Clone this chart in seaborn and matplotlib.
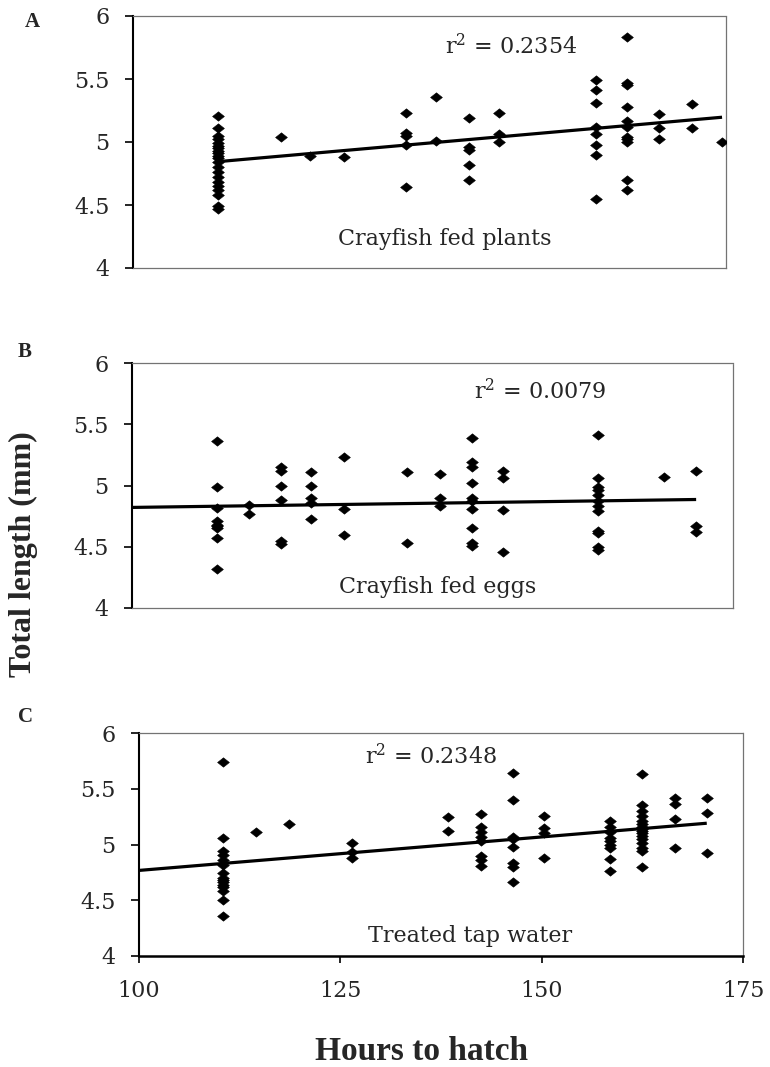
import numpy as np
import pandas as pd
import matplotlib
matplotlib.use("Agg")
import matplotlib.pyplot as plt
import seaborn as sns

# Panel A: crayfish fed plants
plants_hours = [
    110.7, 110.7, 110.7, 110.7, 110.7, 110.7, 110.7, 110.7, 110.7, 110.7, 110.7,
    110.7, 110.7, 110.7, 110.7, 110.7, 110.7, 110.7, 110.7, 110.7, 110.7,
    118.7, 122.4, 126.7,
    134.5, 134.5, 134.5, 134.5, 134.5,
    138.3, 138.3,
    142.5, 142.5, 142.5, 142.5, 142.5,
    146.3, 146.3, 146.3,
    158.5, 158.5, 158.5, 158.5, 158.5, 158.5, 158.5, 158.5,
    162.5, 162.5, 162.5, 162.5, 162.5, 162.5, 162.5, 162.5, 162.5, 162.5, 162.5,
    166.5, 166.5, 166.5,
    170.7, 170.7,
    174.5,
]
plants_length = [
    5.21, 5.11, 5.05, 5.02, 4.99, 4.97, 4.95, 4.93, 4.91, 4.89, 4.87,
    4.84, 4.80, 4.76, 4.72, 4.68, 4.65, 4.62, 4.58, 4.49, 4.47,
    5.04, 4.89, 4.88,
    5.23, 5.07, 5.05, 4.98, 4.64,
    5.36, 5.01,
    5.19, 4.96, 4.94, 4.82, 4.70,
    5.23, 5.06, 5.00,
    5.49, 5.41, 5.31, 5.12, 5.06, 4.98, 4.90, 4.55,
    5.83, 5.47, 5.45, 5.28, 5.17, 5.12, 5.04, 5.02, 5.00, 4.70, 4.62,
    5.22, 5.11, 5.02,
    5.30, 5.11,
    5.00,
]

# Panel B: crayfish fed eggs
eggs_hours = [
    110.6, 110.6, 110.6, 110.6, 110.6, 110.6, 110.6, 110.6, 110.6,
    114.6, 114.6,
    118.6, 118.6, 118.6, 118.6, 118.6, 118.6,
    122.4, 122.4, 122.4, 122.4, 122.4,
    126.4, 126.4, 126.4,
    134.3, 134.3,
    138.4, 138.4, 138.4,
    142.4, 142.4, 142.4, 142.4, 142.4, 142.4, 142.4, 142.4, 142.4, 142.4,
    146.3, 146.3, 146.3, 146.3,
    158.1, 158.1, 158.1, 158.1, 158.1, 158.1, 158.1, 158.1, 158.1, 158.1, 158.1, 158.1,
    166.4,
    170.4, 170.4, 170.4,
]
eggs_length = [
    5.36, 4.99, 4.82, 4.71, 4.68, 4.67, 4.65, 4.57, 4.32,
    4.84, 4.77,
    5.15, 5.12, 5.00, 4.88, 4.55, 4.52,
    5.11, 5.00, 4.90, 4.86, 4.73,
    5.23, 4.81, 4.60,
    5.11, 4.53,
    5.09, 4.90, 4.83,
    5.39, 5.19, 5.15, 5.02, 4.90, 4.87, 4.81, 4.65, 4.53, 4.51,
    5.12, 5.06, 4.80, 4.46,
    5.41, 5.06, 4.99, 4.96, 4.92, 4.87, 4.83, 4.79, 4.63, 4.61, 4.50, 4.47,
    5.07,
    5.12, 4.67, 4.62,
]

# Panel C: treated tap water
water_hours = [
    110.45, 110.45, 110.45, 110.45, 110.45, 110.45, 110.45, 110.45, 110.45,
    110.45, 110.45, 110.45, 110.45, 110.45, 110.45,
    114.5, 118.6,
    126.5, 126.5, 126.5,
    138.4, 138.4,
    142.5, 142.5, 142.5, 142.5, 142.5, 142.5, 142.5, 142.5,
    146.5, 146.5, 146.5, 146.5, 146.5, 146.5, 146.5, 146.5,
    150.3, 150.3, 150.3, 150.3,
    158.5, 158.5, 158.5, 158.5, 158.5, 158.5, 158.5, 158.5, 158.5,
    162.5, 162.5, 162.5, 162.5, 162.5, 162.5, 162.5, 162.5, 162.5, 162.5,
    162.5, 162.5, 162.5, 162.5, 162.5, 162.5,
    166.5, 166.5, 166.5, 166.5,
    170.5, 170.5, 170.5,
]
water_length = [
    5.74, 5.06, 4.94, 4.91, 4.86, 4.82, 4.74, 4.70, 4.68,
    4.66, 4.64, 4.62, 4.58, 4.50, 4.36,
    5.11, 5.18,
    5.01, 4.93, 4.88,
    5.25, 5.12,
    5.27, 5.16, 5.11, 5.07, 5.03, 4.90, 4.86, 4.81,
    5.64, 5.40, 5.07, 5.05, 4.98, 4.83, 4.80, 4.66,
    5.26, 5.15, 5.10, 4.88,
    5.21, 5.16, 5.11, 5.06, 5.03, 5.00, 4.97, 4.87, 4.76,
    5.63, 5.35, 5.30, 5.26, 5.21, 5.18, 5.16, 5.14, 5.12, 5.10,
    5.08, 5.05, 5.01, 4.97, 4.94, 4.80,
    5.42, 5.36, 5.23, 4.97,
    5.42, 5.28, 4.92,
]

panel_letters = ["A", "B", "C"]
panel_titles = ["Crayfish fed plants", "Crayfish fed eggs", "Treated tap water"]
r_squared = ["0.2354", "0.0079", "0.2348"]
y_ticks = [4, 4.5, 5, 5.5, 6]
y_tick_labels = ["4", "4.5", "5", "5.5", "6"]
x_ticks = [100, 125, 150, 175]
x_tick_labels = ["100", "125", "150", "175"]

sns.set_style("ticks")
plt.rcParams["font.family"] = ["Liberation Serif", "DejaVu Serif"]
plt.rcParams["mathtext.fontset"] = "custom"
plt.rcParams["mathtext.rm"] = "DejaVu Serif"
plt.rcParams["mathtext.it"] = "DejaVu Serif:italic"
plt.rcParams["mathtext.bf"] = "DejaVu Serif:bold"

WIDE = ["DejaVu Serif"]

W, H = 770, 1067
fig = plt.figure(figsize=(W / 100, H / 100), dpi=100)


def px_axes(left, right, top, bottom):
    return fig.add_axes([left / W, 1 - bottom / H, (right - left) / W, (bottom - top) / H])


axes = [
    px_axes(133, 726, 16, 268),
    px_axes(132, 733, 363, 608),
    px_axes(139, 743, 733, 956),
]

datasets = [
    (plants_hours, plants_length),
    (eggs_hours, eggs_length),
    (water_hours, water_length),
]
# trend line starts either at the first observation or at the axis origin
line_from_origin = [False, True, True]
label_pos = [(0.526, 0.091), (0.508, 0.061), (0.548, 0.063)]
r2_pos = [(0.638, 0.849), (0.680, 0.853), (0.483, 0.861)]
letter_pos = [(32, 22), (25, 352), (26, 717)]

diamond = [(-1, 0), (0, 0.8), (1, 0), (0, -0.8), (-1, 0)]

for i, ax in enumerate(axes):
    hours, length = datasets[i]
    df = pd.DataFrame({"hours": hours, "length": length})
    sns.scatterplot(data=df, x="hours", y="length", ax=ax, marker=diamond,
                    s=72, color="black", edgecolor="black", linewidth=0.4, zorder=3)
    slope, intercept = np.polyfit(df["hours"], df["length"], 1)
    x0 = 100 if line_from_origin[i] else df["hours"].min()
    xs = np.array([x0, df["hours"].max()])
    ax.plot(xs, slope * xs + intercept, color="black", lw=2.3, zorder=4,
            solid_capstyle="butt")

    ax.set_xlim(100, 175)
    ax.set_ylim(4, 6)
    ax.set_yticks(y_ticks)
    ax.set_yticklabels(y_tick_labels, family=WIDE)
    ax.tick_params(axis="y", direction="out", length=6, width=1.2, labelsize=16,
                   pad=11, color="black")
    ax.set_xlabel("")
    ax.set_ylabel("")
    for side in ["top", "right"]:
        ax.spines[side].set_visible(True)
        ax.spines[side].set_linestyle((0, (1, 1)))
        ax.spines[side].set_color("0.45")
        ax.spines[side].set_linewidth(0.9)
    ax.spines["left"].set_color("black")
    ax.spines["left"].set_linewidth(1.5)
    if i < 2:
        ax.spines["bottom"].set_linestyle((0, (1, 1)))
        ax.spines["bottom"].set_color("0.45")
        ax.spines["bottom"].set_linewidth(0.9)
        ax.set_xticks([])
    else:
        ax.spines["bottom"].set_color("black")
        ax.spines["bottom"].set_linewidth(1.8)
        ax.set_xticks(x_ticks)
        ax.set_xticklabels(x_tick_labels, family=WIDE)
        ax.tick_params(axis="x", direction="out", length=5, width=1.2,
                       labelsize=16, pad=12, color="black")

    lx, ly = label_pos[i]
    ax.text(lx, ly, panel_titles[i], transform=ax.transAxes, ha="center",
            va="baseline", fontsize=16, family=WIDE)
    rx, ry = r2_pos[i]
    ax.text(rx, ry, r"r$^{\mathrm{2}}$ = " + r_squared[i], transform=ax.transAxes,
            ha="center", va="baseline", fontsize=16, family=WIDE)
    px, py = letter_pos[i]
    fig.text(px / W, 1 - py / H, panel_letters[i], ha="center", va="center",
             fontsize=15, fontweight="bold")

fig.text(23 / W, 1 - 554 / H, "Total length (mm)", rotation=90, ha="center",
         va="center", fontsize=23, fontweight="bold")
fig.text(422 / W, 1 - 1060 / H, "Hours to hatch", ha="center", va="baseline",
         fontsize=24, fontweight="bold")

fig.savefig("out.png", dpi=100)
